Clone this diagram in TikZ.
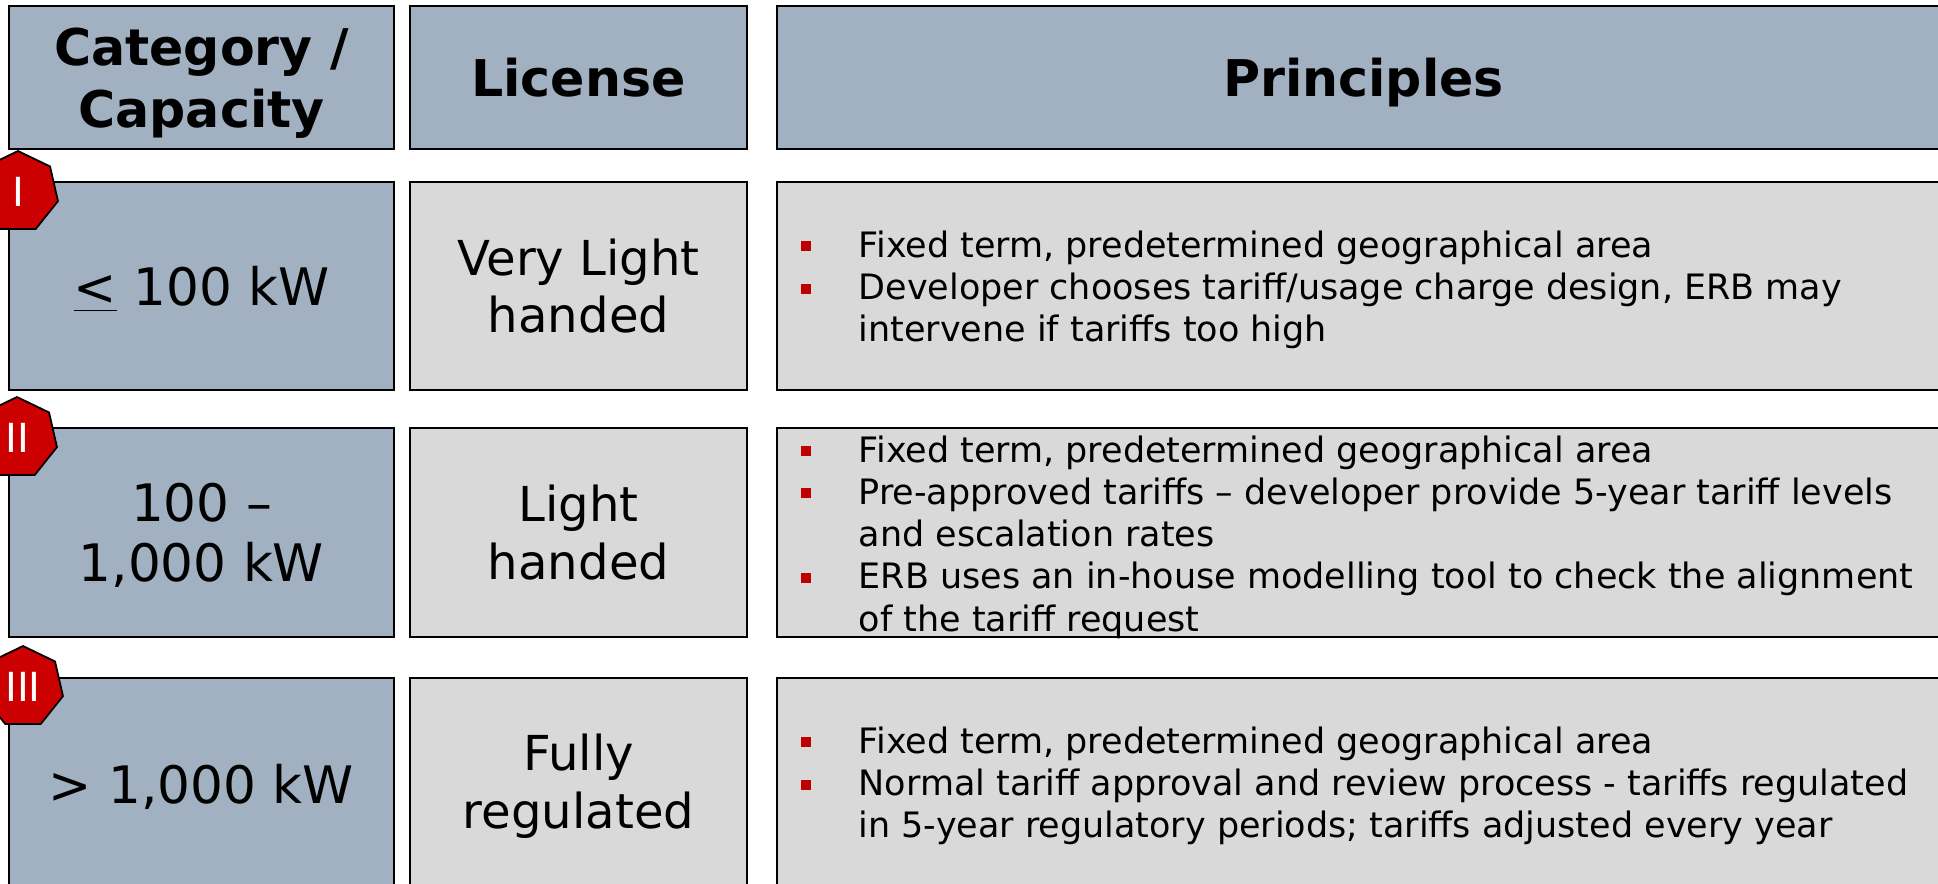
\documentclass[tikz,border=0pt]{standalone}
\usepackage{fontspec}
\setmainfont{DejaVu Sans}
\usepackage{xcolor}
\usetikzlibrary{shapes.geometric}
\definecolor{hdrblue}{HTML}{A2B1C1}
\definecolor{cellgray}{HTML}{D9D9D9}
\definecolor{badgered}{HTML}{CC0000}
\definecolor{bulletred}{HTML}{C00000}
\newcommand{\bsq}{\makebox[5.8mm][l]{\raisebox{0.6mm}{\textcolor{bulletred}{\rule{1mm}{1mm}}}}}
\newcommand{\bgap}{\hspace*{5.8mm}}

\begin{document}
\begin{tikzpicture}[
  cell/.style={draw,line width=0.6pt,inner sep=0pt,align=center},
  hdr/.style={cell,fill=hdrblue,minimum height=1.43cm,text depth=0pt,font=\bfseries\fontsize{14.4}{17.6}\selectfont},
  cat/.style={cell,fill=hdrblue,minimum width=3.85cm,font=\fontsize{14.7}{17}\selectfont},
  lic/.style={cell,fill=cellgray,minimum width=3.37cm,font=\fontsize{13.7}{16.4}\selectfont},
  pri/.style={cell,fill=cellgray,minimum width=11.73cm},
  bullets/.style={anchor=west,inner sep=0pt,align=left,font=\fontsize{9.95}{12}\selectfont},
  badge/.style={regular polygon,regular polygon sides=7,minimum size=8.2mm,inner sep=0pt,draw,line width=0.5pt,fill=badgered,text=white,font=\fontsize{11.4}{12}\selectfont}]
\useasboundingbox (0,0) rectangle (19.38,-8.83);
\clip (0,0) rectangle (19.38,-8.83);
\node[hdr,minimum width=3.85cm] (hcat) at (2.015,-0.775) {Category /\\Capacity};
\node[hdr,minimum width=3.37cm] (hlic) at (5.785,-0.775) {License};
\node[hdr,minimum width=11.73cm] (hpri) at (13.635,-0.775) {Principles};
\node[cat,minimum height=2.08cm,text depth=0pt] (c1) at (2.015,-2.86) {\underline{<} 100 kW};
\node[lic,minimum height=2.08cm] (l1) at (5.785,-2.86) {Very Light\\handed};
\node[pri,minimum height=2.08cm] (p1) at (13.635,-2.86) {};
\node[cat,minimum height=2.09cm,text depth=0pt] (c2) at (2.015,-5.325) {100 –\\1,000 kW};
\node[lic,minimum height=2.09cm] (l2) at (5.785,-5.325) {Light\\handed};
\node[pri,minimum height=2.09cm] (p2) at (13.635,-5.325) {};
\node[cat,minimum height=2.17cm] (c3) at (2.015,-7.865) {> 1,000 kW};
\node[lic,minimum height=2.17cm] (l3) at (5.785,-7.865) {Fully\\regulated};
\node[pri,minimum height=2.17cm] (p3) at (13.635,-7.865) {};
\node[bullets] (t1) at (8.00,-2.90) {\bsq Fixed term, predetermined geographical area\\
\bsq Developer chooses tariff/usage charge design, ERB may\\
\bgap intervene if tariffs too high};
\node[bullets] (t2) at (8.00,-5.37) {\bsq Fixed term, predetermined geographical area\\
\bsq Pre-approved tariffs – developer provide 5-year tariff levels\\
\bgap and escalation rates\\
\bsq ERB uses an in-house modelling tool to check the alignment\\
\bgap of the tariff request};
\node[bullets] (t3) at (8.00,-7.86) {\bsq Fixed term, predetermined geographical area\\
\bsq Normal tariff approval and review process - tariffs regulated\\
\bgap in 5-year regulatory periods; tariffs adjusted every year};
\foreach \n/\x/\y in {I/0.18/1.92,II/0.17/4.38,III/0.23/6.87}
  \node[badge] (b\n) at (\x,-\y) {\n};
\end{tikzpicture}
\end{document}
